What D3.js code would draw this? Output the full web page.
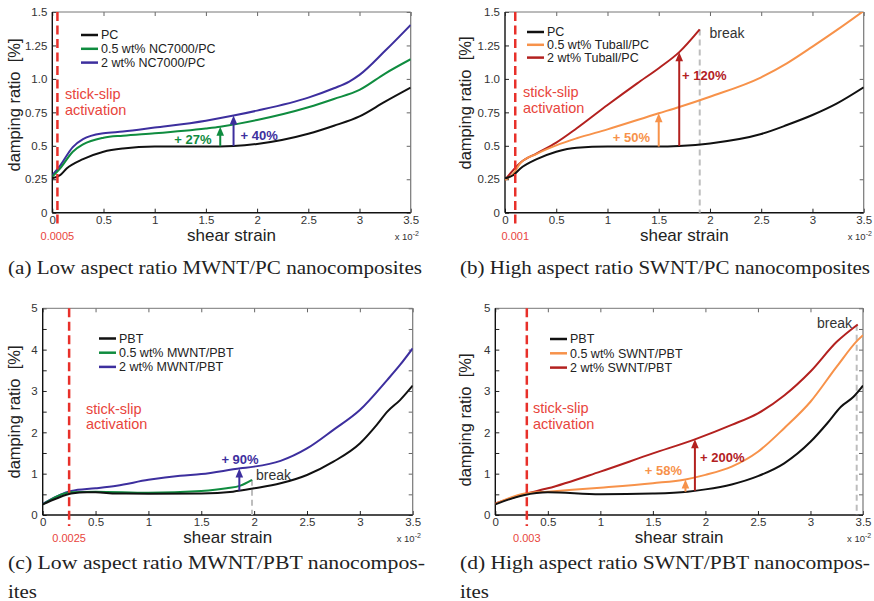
<!DOCTYPE html>
<html>
<head>
<meta charset="utf-8">
<script src="https://cdn.jsdelivr.net/npm/d3@7"></script>
<style>
  body { margin: 0; background: #fff; }
  svg { display: block; }
</style>
</head>
<body>
<svg id="fig" width="874" height="601"></svg>
<script>
// ---- data: shear strain (x 10^-2) vs damping ratio (%) ----
const xTicks = [0, 0.5, 1, 1.5, 2, 2.5, 3, 3.5];
const yTicksPC = [0, 0.25, 0.5, 0.75, 1.0, 1.25, 1.5];
const yTickLabelsPC = ["0", "0.25", "0.5", "0.75", "1.0", "1.25", "1.5"];
const yTicksPBT = [0, 0.5, 1, 1.5, 2, 2.5, 3, 3.5, 4, 4.5, 5];
const yTickLabelsPBT = ["0", "", "1", "", "2", "", "3", "", "4", "", "5"];

// (a) low aspect ratio MWNT / PC
const a_PC = [[0,0.257],[0.075,0.28],[0.14,0.33],[0.3,0.40],[0.5,0.456],[0.69,0.48],[1.0,0.494],[1.5,0.494],[1.77,0.499],[2.0,0.514],[2.5,0.59],[2.75,0.65],[3.0,0.72],[3.25,0.83],[3.5,0.935]];
const a_NC05 = [[0,0.27],[0.075,0.33],[0.2,0.456],[0.3,0.51],[0.5,0.56],[0.69,0.576],[1.0,0.594],[1.5,0.63],[1.64,0.643],[2.0,0.693],[2.5,0.788],[2.75,0.85],[3.0,0.918],[3.25,1.04],[3.5,1.147]];
const a_NC2 = [[0,0.28],[0.075,0.35],[0.2,0.49],[0.3,0.55],[0.5,0.594],[0.69,0.606],[1.0,0.636],[1.5,0.688],[1.77,0.726],[2.0,0.763],[2.5,0.86],[2.75,0.93],[2.9,0.98],[3.0,1.03],[3.25,1.21],[3.5,1.404]];

// (b) high aspect ratio SWNT / PC
const b_PC = [[0,0.257],[0.08,0.28],[0.15,0.33],[0.31,0.40],[0.5,0.456],[0.7,0.486],[1.0,0.494],[1.5,0.494],[1.7,0.499],[2.0,0.518],[2.5,0.588],[2.75,0.655],[3.0,0.73],[3.24,0.817],[3.5,0.937]];
const b_T05 = [[0,0.245],[0.08,0.29],[0.15,0.37],[0.31,0.44],[0.5,0.503],[0.7,0.556],[1.0,0.623],[1.5,0.743],[1.7,0.79],[2.0,0.867],[2.5,1.012],[2.75,1.116],[3.0,1.241],[3.24,1.366],[3.5,1.508]];
const b_T2 = [[0,0.245],[0.15,0.374],[0.31,0.444],[0.5,0.524],[0.7,0.631],[1.0,0.805],[1.29,0.967],[1.5,1.08],[1.7,1.2],[1.9,1.37]];

// (c) low aspect ratio MWNT / PBT
const c_PBT = [[0,0.258],[0.13,0.40],[0.27,0.52],[0.42,0.55],[0.5,0.55],[0.7,0.52],[1.0,0.516],[1.5,0.52],[1.8,0.565],[2.0,0.645],[2.25,0.766],[2.5,0.968],[2.75,1.29],[3.0,1.73],[3.16,2.18],[3.26,2.5],[3.38,2.78],[3.5,3.13]];
const c_MW05 = [[0,0.258],[0.27,0.55],[0.5,0.565],[1.0,0.54],[1.5,0.58],[1.74,0.645],[1.87,0.71],[1.98,0.85]];
const c_MW2 = [[0,0.27],[0.27,0.58],[0.5,0.645],[0.7,0.71],[1.0,0.85],[1.3,0.95],[1.5,0.99],[1.87,1.13],[2.0,1.17],[2.25,1.31],[2.5,1.61],[2.75,2.06],[3.0,2.54],[3.26,3.27],[3.38,3.63],[3.5,4.03]];

// (d) high aspect ratio SWNT / PBT
const d_PBT = [[0,0.258],[0.27,0.48],[0.5,0.55],[1.0,0.5],[1.5,0.52],[1.83,0.565],[2.0,0.62],[2.25,0.74],[2.5,0.94],[2.75,1.25],[3.0,1.77],[3.16,2.22],[3.29,2.62],[3.41,2.86],[3.5,3.13]];
const d_SW05 = [[0,0.27],[0.28,0.52],[0.5,0.565],[1.0,0.66],[1.5,0.77],[1.81,0.86],[2.0,0.97],[2.25,1.17],[2.5,1.53],[2.75,2.1],[3.0,2.74],[3.25,3.59],[3.45,4.23],[3.5,4.35]];
const d_SW2 = [[0,0.28],[0.28,0.51],[0.5,0.645],[1.0,1.05],[1.5,1.49],[1.9,1.83],[2.25,2.18],[2.5,2.46],[2.75,2.89],[3.0,3.47],[3.25,4.19],[3.45,4.61]];

// stick-slip activation strain (x 10^-2) and its label
const stickSlip = { a: [0.05, "0.0005"], b: [0.1, "0.001"], c: [0.25, "0.0025"], d: [0.3, "0.003"] };

// ---- styling ----
const SANS = "'Liberation Sans', Arial, Helvetica, sans-serif";
const SERIF = "'Liberation Serif', 'Times New Roman', serif";
const C = {
  black: "#111111", green: "#0f8c3f", blue: "#3d2f9e",
  orange: "#f7924a", red: "#b3211f", slip: "#e8302a", slipText: "#e8453c"
};

const svg = d3.select("#fig");
const defs = svg.append("defs");

// linear interpolation within a series
function valueAt(series, xv) {
  for (let i = 1; i < series.length; i++) {
    const [x0, y0] = series[i - 1], [x1, y1] = series[i];
    if (xv >= x0 && xv <= x1) return y0 + (y1 - y0) * (xv - x0) / (x1 - x0);
  }
  return series[series.length - 1][1];
}

function drawPanel(p, idx) {
  const g = svg.append("g");
  const x = d3.scaleLinear().domain([0, 3.5]).range([p.left, p.right]);
  const y = d3.scaleLinear().domain([0, p.yMax]).range([p.bottom, p.top]);

  const clipId = "clip" + idx;
  defs.append("clipPath").attr("id", clipId)
    .append("rect").attr("x", p.left).attr("y", p.top)
    .attr("width", p.right - p.left).attr("height", p.bottom - p.top);

  // axes (ticks point inward on all four sides)
  const tickFmtY = (d, i) => p.yLabels[i];
  const ax = g.append("g").attr("transform", `translate(0,${p.bottom})`)
    .call(d3.axisBottom(x).tickValues(xTicks).tickSize(-4).tickPadding(3).tickFormat(d3.format("")));
  const ay = g.append("g").attr("transform", `translate(${p.left},0)`)
    .call(d3.axisLeft(y).tickValues(p.yTicks).tickSize(-4).tickPadding(5).tickFormat(tickFmtY));
  const at = g.append("g").attr("transform", `translate(0,${p.top})`)
    .call(d3.axisTop(x).tickValues(xTicks).tickSize(-4).tickFormat(""));
  const ar = g.append("g").attr("transform", `translate(${p.right},0)`)
    .call(d3.axisRight(y).tickValues(p.yTicks).tickSize(-4).tickFormat(""));
  [ax, ay, at, ar].forEach(a => {
    a.select(".domain").remove();
    a.selectAll("text").attr("font-family", SANS).attr("font-size", 11.5).attr("fill", "#333");
  });
  [ax, ay].forEach(a => a.selectAll("line").attr("stroke", "#222").attr("stroke-width", 1));
  [at, ar].forEach(a => a.selectAll("line").attr("stroke", "#666").attr("stroke-width", 1));

  // frame
  g.append("line").attr("x1", p.left).attr("x2", p.right).attr("y1", p.top).attr("y2", p.top)
    .attr("stroke", "#777").attr("stroke-width", 1);
  g.append("line").attr("x1", p.right).attr("x2", p.right).attr("y1", p.top).attr("y2", p.bottom)
    .attr("stroke", "#777").attr("stroke-width", 1.2);
  g.append("line").attr("x1", p.left).attr("x2", p.left).attr("y1", p.top).attr("y2", p.bottom)
    .attr("stroke", "#111").attr("stroke-width", 1.4);
  g.append("line").attr("x1", p.left).attr("x2", p.right).attr("y1", p.bottom).attr("y2", p.bottom)
    .attr("stroke", "#111").attr("stroke-width", 1.4);

  // break marker
  if (p.brk) {
    g.append("line").attr("x1", x(p.brk.x)).attr("x2", x(p.brk.x))
      .attr("y1", y(p.brk.from)).attr("y2", p.bottom)
      .attr("stroke", "#bdbdbd").attr("stroke-width", 2).attr("stroke-dasharray", "6,4");
    g.append("text").attr("x", p.brk.tx).attr("y", p.brk.ty).attr("dy", "0.35em")
      .attr("text-anchor", p.brk.anchor || "start")
      .attr("font-family", SANS).attr("font-size", 14).attr("fill", "#333").text("break");
  }

  // curves
  const line = d3.line().x(d => x(d[0])).y(d => y(d[1])).curve(d3.curveMonotoneX);
  const curves = g.append("g").attr("clip-path", `url(#${clipId})`);
  p.series.slice().reverse().forEach(s => {
    curves.append("path").attr("d", line(s.data)).attr("fill", "none")
      .attr("stroke", s.color).attr("stroke-width", 2).attr("stroke-linejoin", "round");
  });

  // stick-slip activation marker
  const [sx, sLabel] = p.slip;
  g.append("line").attr("x1", x(sx)).attr("x2", x(sx)).attr("y1", p.top).attr("y2", p.bottom + 11)
    .attr("stroke", C.slip).attr("stroke-width", 2.5).attr("stroke-dasharray", "9,4.5");
  g.append("text").attr("x", x(sx)).attr("y", p.bottom + 23).attr("dy", "0.35em")
    .attr("text-anchor", "middle").attr("font-family", SANS).attr("font-size", 11)
    .attr("fill", C.slipText).text(sLabel);
  [["stick-slip", 0], ["activation", 15.5]].forEach(([t, off]) => {
    g.append("text").attr("x", p.slipText[0]).attr("y", p.slipText[1] + off).attr("dy", "0.35em")
      .attr("font-family", SANS).attr("font-size", 14.5).attr("fill", C.slipText).text(t);
  });

  // increase arrows, from the base curve up to the filled curve
  p.arrows.forEach(a => {
    const xp = x(a.x);
    const y0 = y(valueAt(a.base, a.x));
    const y1 = y(valueAt(a.top, a.x));
    const hl = 9, hw = 3.8;
    g.append("line").attr("x1", xp).attr("x2", xp).attr("y1", y0).attr("y2", y1 + hl - 1)
      .attr("stroke", a.color).attr("stroke-width", 2);
    g.append("path").attr("d", `M${xp},${y1} L${xp - hw},${y1 + hl} L${xp + hw},${y1 + hl} Z`)
      .attr("fill", a.color);
    g.append("text").attr("x", a.tx).attr("y", a.ty).attr("dy", "0.35em")
      .attr("text-anchor", a.anchor).attr("font-family", SANS).attr("font-size", 13)
      .attr("font-weight", "bold").attr("fill", a.color).text(a.label);
  });

  // legend
  p.series.forEach((s, i) => {
    const ly = p.legend[1] + i * p.legend[2];
    g.append("line").attr("x1", p.legend[0]).attr("x2", p.legend[0] + 17)
      .attr("y1", ly).attr("y2", ly).attr("stroke", s.color).attr("stroke-width", 2.5);
    g.append("text").attr("x", p.legend[0] + 20).attr("y", ly).attr("dy", "0.35em")
      .attr("font-family", SANS).attr("font-size", 12.5).attr("fill", "#222").text(s.name);
  });

  // axis titles
  g.append("text").attr("transform", `translate(${p.yTitle[0]},${p.yTitle[1]}) rotate(-90)`)
    .attr("text-anchor", "middle").attr("dy", "0.35em")
    .attr("font-family", SANS).attr("font-size", 16.5).attr("fill", "#222")
    .text("damping ratio\u00a0 [%]");
  g.append("text").attr("x", (p.left + p.right) / 2).attr("y", p.bottom + 28)
    .attr("text-anchor", "middle").attr("font-family", SANS).attr("font-size", 17).attr("fill", "#222")
    .text("shear strain");
  const ex = g.append("text").attr("x", p.right - 16).attr("y", p.bottom + 27)
    .attr("font-family", SANS).attr("font-size", 9.5).attr("fill", "#333").text("x 10");
  ex.append("tspan").attr("dy", -4).attr("font-size", 7).text("-2");

  // caption
  p.caption.forEach((t, i) => {
    svg.append("text").attr("font-family", SERIF).attr("font-size", 18).attr("fill", "#222")
      .attr("x", p.capPos[0]).attr("y", p.capPos[1] + i * 29).text(t[0])
      .attr("textLength", t[1]).attr("lengthAdjust", "spacingAndGlyphs");
  });
}

const panels = [
  {
    left: 52.3, right: 410.7, top: 12, bottom: 212.7, yMax: 1.5,
    yTicks: yTicksPC, yLabels: yTickLabelsPC,
    series: [
      { name: "PC", data: a_PC, color: C.black },
      { name: "0.5 wt% NC7000/PC", data: a_NC05, color: C.green },
      { name: "2 wt% NC7000/PC", data: a_NC2, color: C.blue }
    ],
    legend: [81, 35, 13.8], slip: stickSlip.a, slipText: [65, 94],
    arrows: [
      { x: 1.64, base: a_PC, top: a_NC05, color: C.green, label: "+ 27%", tx: 211.5, ty: 139.5, anchor: "end" },
      { x: 1.77, base: a_PC, top: a_NC2, color: C.blue, label: "+ 40%", tx: 240.5, ty: 135, anchor: "start" }
    ],
    yTitle: [14, 105],
    caption: [["(a) Low aspect ratio MWNT/PC nanocomposites", 414]], capPos: [8, 274]
  },
  {
    left: 505, right: 863.7, top: 12, bottom: 212.7, yMax: 1.5,
    yTicks: yTicksPC, yLabels: yTickLabelsPC,
    series: [
      { name: "PC", data: b_PC, color: C.black },
      { name: "0.5 wt% Tuball/PC", data: b_T05, color: C.orange },
      { name: "2 wt% Tuball/PC", data: b_T2, color: C.red }
    ],
    legend: [527, 32, 12.8], slip: stickSlip.b, slipText: [523, 92],
    arrows: [
      { x: 1.5, base: b_PC, top: b_T05, color: C.orange, label: "+ 50%", tx: 650, ty: 137, anchor: "end" },
      { x: 1.7, base: b_PC, top: b_T2, color: C.red, label: "+ 120%", tx: 682, ty: 75, anchor: "start" }
    ],
    brk: { x: 1.9, from: 1.37, tx: 709.5, ty: 33 },
    yTitle: [465, 103],
    caption: [["(b) High aspect ratio SWNT/PC nanocomposites", 410]], capPos: [460, 274]
  },
  {
    left: 42.7, right: 412.7, top: 308.3, bottom: 515, yMax: 5,
    yTicks: yTicksPBT, yLabels: yTickLabelsPBT,
    series: [
      { name: "PBT", data: c_PBT, color: C.black },
      { name: "0.5 wt% MWNT/PBT", data: c_MW05, color: C.green },
      { name: "2 wt% MWNT/PBT", data: c_MW2, color: C.blue }
    ],
    legend: [99, 338.5, 14.2], slip: stickSlip.c, slipText: [86, 408.5],
    arrows: [
      { x: 1.86, base: c_PBT, top: c_MW2, color: C.blue, label: "+ 90%", tx: 240, ty: 459.5, anchor: "middle" }
    ],
    brk: { x: 1.98, from: 0.85, tx: 256, ty: 475 },
    yTitle: [14, 412],
    caption: [["(c) Low aspect ratio MWNT/PBT nanocompos-", 417], ["ites", 29]], capPos: [8, 569]
  },
  {
    left: 495.3, right: 863, top: 308.3, bottom: 515, yMax: 5,
    yTicks: yTicksPBT, yLabels: yTickLabelsPBT,
    series: [
      { name: "PBT", data: d_PBT, color: C.black },
      { name: "0.5 wt% SWNT/PBT", data: d_SW05, color: C.orange },
      { name: "2 wt% SWNT/PBT", data: d_SW2, color: C.red }
    ],
    legend: [550, 339, 14.3], slip: stickSlip.d, slipText: [533, 408],
    arrows: [
      { x: 1.81, base: d_PBT, top: d_SW05, color: C.orange, label: "+ 58%", tx: 682, ty: 470, anchor: "end" },
      { x: 1.9, base: d_PBT, top: d_SW2, color: C.red, label: "+ 200%", tx: 700, ty: 457, anchor: "start" }
    ],
    brk: { x: 3.44, from: 4.6, tx: 852, ty: 323, anchor: "end" },
    yTitle: [465, 420],
    caption: [["(d) High aspect ratio SWNT/PBT nanocompos-", 410], ["ites", 29]], capPos: [460, 569]
  }
];

panels.forEach(drawPanel);
</script>
</body>
</html>
